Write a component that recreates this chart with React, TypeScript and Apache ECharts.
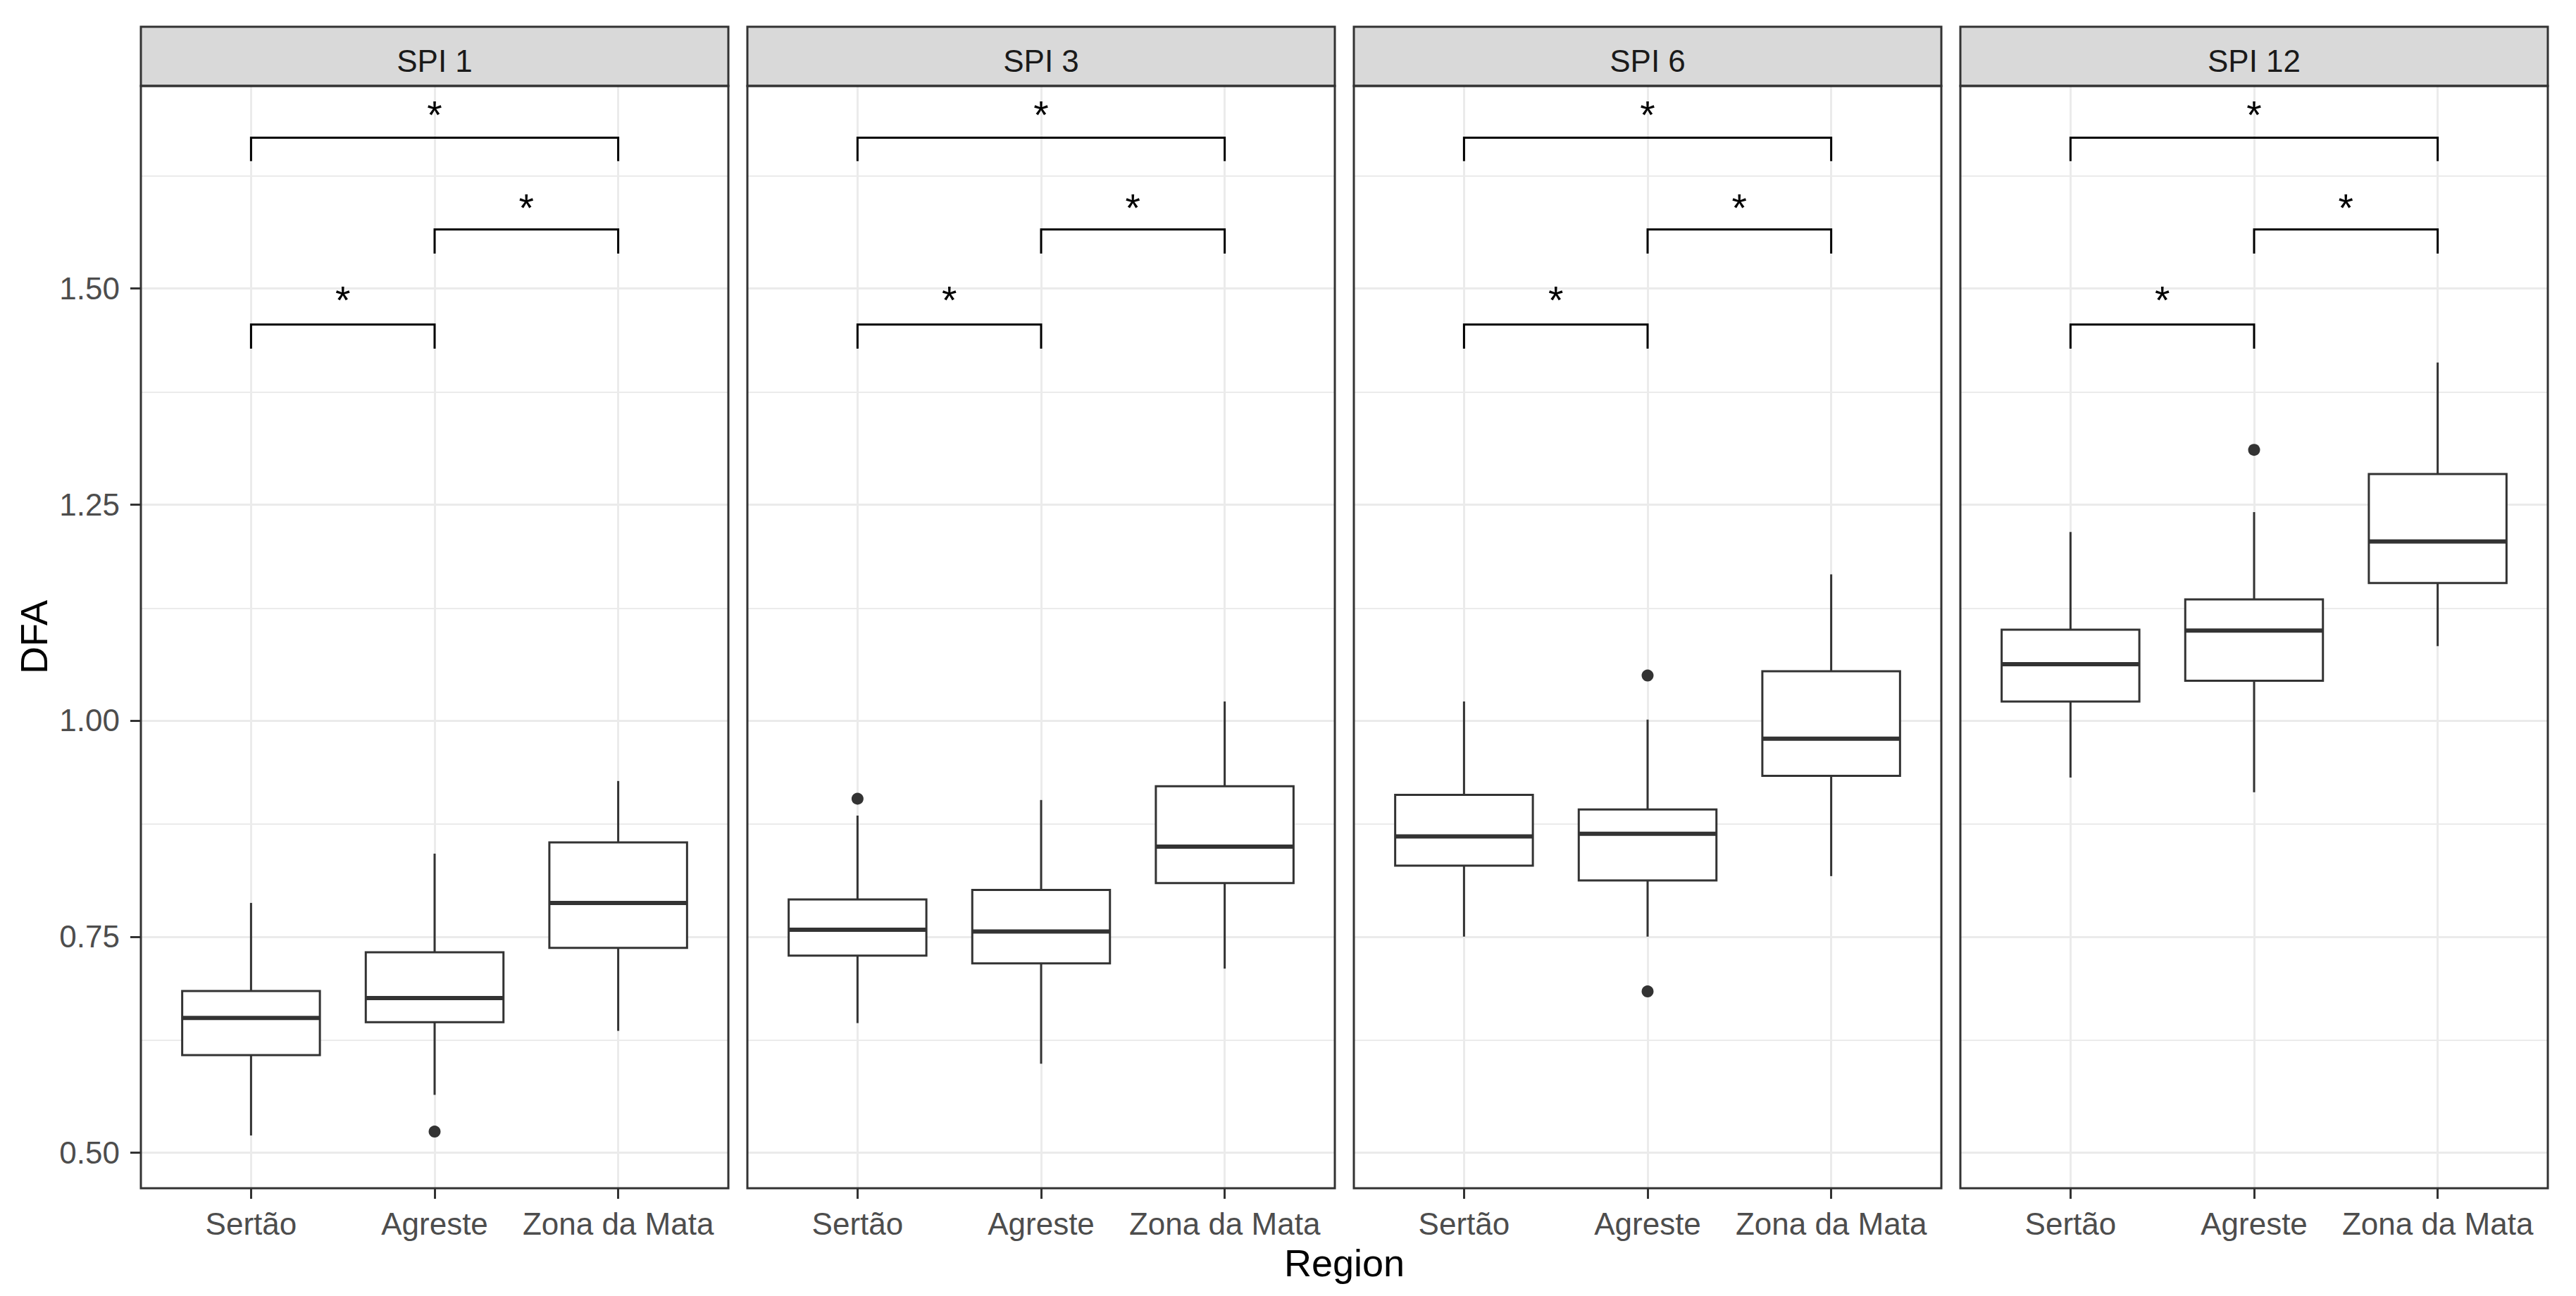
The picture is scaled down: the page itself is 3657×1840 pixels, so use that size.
import React, { useEffect, useRef } from 'react';
import * as echarts from 'echarts';

// ---------- data ----------
const panels = ['SPI 1', 'SPI 3', 'SPI 6', 'SPI 12'];
const regions = ['Sertão', 'Agreste', 'Zona da Mata'];
const regionIdx = [0, 1, 2];
const yTicks = [0.5, 0.75, 1.0, 1.25, 1.5];
const yMinorTicks = [0.625, 0.875, 1.125, 1.375, 1.625];

// [lower whisker, Q1, median, Q3, upper whisker] for Sertão, Agreste, Zona da Mata
const spi1Box = [
  [0.520, 0.613, 0.656, 0.687, 0.789],
  [0.567, 0.651, 0.679, 0.732, 0.846],
  [0.641, 0.737, 0.789, 0.859, 0.930],
];
const spi3Box = [
  [0.650, 0.728, 0.758, 0.793, 0.890],
  [0.603, 0.719, 0.756, 0.804, 0.908],
  [0.713, 0.812, 0.854, 0.924, 1.022],
];
const spi6Box = [
  [0.750, 0.832, 0.866, 0.914, 1.022],
  [0.750, 0.815, 0.869, 0.897, 1.001],
  [0.820, 0.936, 0.979, 1.057, 1.169],
];
const spi12Box = [
  [0.934, 1.022, 1.065, 1.105, 1.218],
  [0.917, 1.046, 1.104, 1.140, 1.241],
  [1.086, 1.159, 1.207, 1.285, 1.414],
];
// outliers: [region index, value]
const spi1Out = [[1, 0.5245]];
const spi3Out = [[0, 0.9095]];
const spi6Out = [[1, 1.052], [1, 0.6866]];
const spi12Out = [[1, 1.313]];

// significance brackets (same in every panel)
const bracketPairs = [[0, 1], [1, 2], [0, 2]];
const bracketBarY = [1.458, 1.568, 1.674];
const bracketTipY = [1.430, 1.540, 1.647];
const starY = [1.496, 1.603, 1.710];
const sigLabels = ['*', '*', '*'];

const boxes = [spi1Box, spi3Box, spi6Box, spi12Box];
const outliers = [spi1Out, spi3Out, spi6Out, spi12Out];

// ---------- layout ----------
const FONT = "'Liberation Sans', Arial, Helvetica, sans-serif";
const P_LEFT0 = 200;
const P_PITCH = 861;
const P_W = 834;
const P_TOP = 122;
const P_H = 1565;
const STRIP_TOP = 38;
const Y_MIN = 0.459;
const Y_MAX = 1.7339;
const DARK = '#333333';
const GRIDC = '#EBEBEB';

const pl = (i: number) => P_LEFT0 + i * P_PITCH;

function buildOption() {
  const grid = panels.map((_, i) => ({
    left: pl(i), top: P_TOP, width: P_W, height: P_H,
    show: false, containLabel: false, outerBoundsMode: 'none',
  }));
  const xAxis = panels.map((_, i) => ({
    type: 'value', gridIndex: i, min: -0.6, max: 2.6,
    axisLine: { show: false, onZero: false },
    splitLine: { show: false },
    axisTick: { show: true, customValues: regionIdx, length: 15, lineStyle: { color: DARK, width: 3 } },
    axisLabel: {
      show: true, customValues: regionIdx, margin: 28,
      formatter: (v: number) => regions[Math.round(v)],
      color: '#4D4D4D', fontSize: 44, fontFamily: FONT,
    },
  }));
  const yAxis = panels.map((_, i) => ({
    type: 'value', gridIndex: i, min: Y_MIN, max: Y_MAX,
    axisLine: { show: false, onZero: false },
    splitLine: { show: false },
    axisTick: { show: i === 0, customValues: yTicks, length: 15, lineStyle: { color: DARK, width: 3 } },
    axisLabel: {
      show: i === 0, customValues: yTicks, margin: 30,
      formatter: (v: number) => v.toFixed(2),
      color: '#4D4D4D', fontSize: 44, fontFamily: FONT,
    },
  }));

  const series: any[] = [];
  panels.forEach((_, i) => {
    // grid lines
    series.push({
      type: 'line', xAxisIndex: i, yAxisIndex: i, data: [[0, 1]], symbol: 'none',
      lineStyle: { opacity: 0 }, silent: true, z: 0, zlevel: 0,
      markLine: {
        silent: true, z: 0, zlevel: 0, symbol: ['none', 'none'], label: { show: false },
        emphasis: { disabled: true },
        lineStyle: { color: GRIDC, width: 3, type: 'solid' },
        data: [
          ...yTicks.map((v) => ({ yAxis: v })),
          ...yMinorTicks.map((v) => ({ yAxis: v, lineStyle: { color: GRIDC, width: 2, type: 'solid' } })),
          ...regionIdx.map((k) => ({ xAxis: k })),
        ],
      },
    });
    // boxes
    series.push({
      type: 'custom', xAxisIndex: i, yAxisIndex: i, z: 6,
      data: boxes[i].map((b, k) => [regionIdx[k], ...b]),
      encode: { x: 0, y: [1, 2, 3, 4, 5] },
      renderItem: (params: any, api: any) => {
        const x = api.value(0);
        const lo = api.coord([x, api.value(1)]);
        const q1 = api.coord([x, api.value(2)]);
        const md = api.coord([x, api.value(3)]);
        const q3 = api.coord([x, api.value(4)]);
        const hi = api.coord([x, api.value(5)]);
        const w = api.size([0.75, 0])[0];
        const cx = lo[0];
        const ls = { stroke: DARK, lineWidth: 3 };
        return {
          type: 'group',
          children: [
            { type: 'line', shape: { x1: cx, y1: hi[1], x2: cx, y2: q3[1] }, style: ls },
            { type: 'line', shape: { x1: cx, y1: q1[1], x2: cx, y2: lo[1] }, style: ls },
            { type: 'rect', shape: { x: cx - w / 2, y: q3[1], width: w, height: q1[1] - q3[1] }, style: { fill: '#ffffff', stroke: DARK, lineWidth: 3 } },
            { type: 'line', shape: { x1: cx - w / 2, y1: md[1], x2: cx + w / 2, y2: md[1] }, style: { stroke: DARK, lineWidth: 6 } },
          ],
        };
      },
    });
    // outliers
    series.push({
      type: 'scatter', xAxisIndex: i, yAxisIndex: i, z: 7,
      data: outliers[i], symbol: 'circle', symbolSize: 17,
      itemStyle: { color: DARK, opacity: 1 }, silent: true,
    });
    // brackets
    series.push({
      type: 'custom', xAxisIndex: i, yAxisIndex: i, z: 7,
      data: bracketPairs.map((p, k) => [p[0], p[1], bracketTipY[k], bracketBarY[k]]),
      encode: { x: [0, 1], y: [2, 3] },
      renderItem: (params: any, api: any) => {
        const a = api.coord([api.value(0), api.value(2)]);
        const b = api.coord([api.value(0), api.value(3)]);
        const c = api.coord([api.value(1), api.value(3)]);
        const d = api.coord([api.value(1), api.value(2)]);
        return { type: 'polyline', shape: { points: [a, b, c, d] }, style: { stroke: '#000000', lineWidth: 3, fill: 'none' } };
      },
    });
    // significance labels
    series.push({
      type: 'custom', xAxisIndex: i, yAxisIndex: i, z: 7,
      data: bracketPairs.map((p, k) => [(p[0] + p[1]) / 2, starY[k]]),
      encode: { x: 0, y: 1 },
      renderItem: (params: any, api: any) => {
        const pt = api.coord([api.value(0), api.value(1)]);
        return {
          type: 'text', x: pt[0], y: pt[1] + 12,
          style: {
            text: sigLabels[params.dataIndex], fontSize: 55, fontFamily: FONT, fill: '#000000',
            align: 'center', verticalAlign: 'middle', textAlign: 'center', textVerticalAlign: 'middle',
          },
        };
      },
    });
  });

  const graphic: any[] = [];
  panels.forEach((name, i) => {
    graphic.push({
      type: 'rect', z: 50,
      shape: { x: pl(i), y: STRIP_TOP, width: P_W, height: P_TOP - STRIP_TOP },
      style: { fill: '#D9D9D9', stroke: DARK, lineWidth: 3 },
    });
    graphic.push({
      type: 'text', z: 51, x: pl(i) + P_W / 2, y: 86,
      style: { text: name, fontSize: 44, fontFamily: FONT, fill: '#1A1A1A', align: 'center', verticalAlign: 'middle', textAlign: 'center', textVerticalAlign: 'middle' },
    });
    graphic.push({
      type: 'rect', z: 50,
      shape: { x: pl(i), y: P_TOP, width: P_W, height: P_H },
      style: { fill: 'none', stroke: DARK, lineWidth: 3 },
    });
  });
  graphic.push({
    type: 'text', z: 51, x: (pl(0) + pl(3) + P_W) / 2, y: 1793,
    style: { text: 'Region', fontSize: 54, fontFamily: FONT, fill: '#000000', align: 'center', verticalAlign: 'middle', textAlign: 'center', textVerticalAlign: 'middle' },
  });
  graphic.push({
    type: 'text', z: 51, x: 48, y: P_TOP + P_H / 2, rotation: Math.PI / 2,
    style: { text: 'DFA', fontSize: 54, fontFamily: FONT, fill: '#000000', align: 'center', verticalAlign: 'middle', textAlign: 'center', textVerticalAlign: 'middle' },
  });

  return {
    animation: false,
    backgroundColor: '#ffffff',
    textStyle: { fontFamily: FONT },
    grid, xAxis, yAxis, series, graphic,
  };
}

export default function App() {
  const ref = useRef<HTMLDivElement>(null);
  useEffect(() => {
    const chart = echarts.init(ref.current!, null, { renderer: 'svg' });
    chart.setOption(buildOption() as any);
    return () => chart.dispose();
  }, []);
  return (
    <div
      ref={ref}
      style={{ position: 'fixed', left: 0, top: 0, width: 3657, height: 1840, background: '#ffffff' }}
    />
  );
}
